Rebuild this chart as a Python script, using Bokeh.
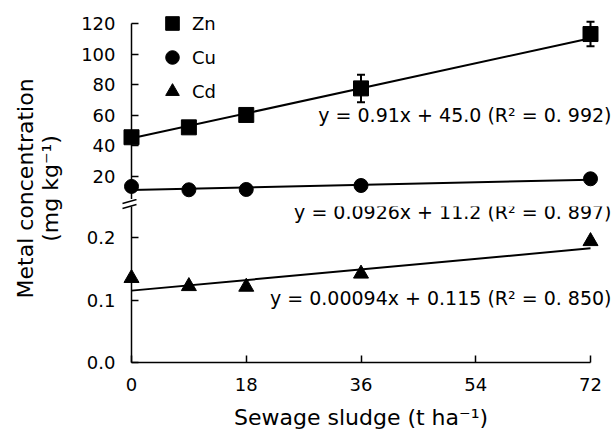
import math
from bokeh.plotting import figure
from bokeh.models import (Range1d, ColumnDataSource, Label, Legend, LegendItem,
                          Whisker, TeeHead, FixedTicker, PrintfTickFormatter)
from bokeh.core.properties import value
from bokeh.layouts import row, column
from bokeh.embed import file_html
from bokeh.resources import INLINE

# ---------------- data ----------------
sludge = [0, 9, 18, 36, 72]
zn = [45.7, 52.2, 60.3, 77.7, 113.3]
zn_err = [2.0, 2.0, 2.0, 9.0, 8.0]
cu = [13.5, 11.3, 11.5, 14.1, 18.5]
cd = [0.135, 0.122, 0.121, 0.142, 0.194]

fit_slope = {"Zn": 0.91, "Cu": 0.0926, "Cd": 0.00094}
fit_icpt = {"Zn": 45.0, "Cu": 11.2, "Cd": 0.115}
eq_text = {
    "Zn": "y = 0.91x + 45.0 (R\u00b2 = 0. 992)",
    "Cu": "y = 0.0926x + 11.2 (R\u00b2 = 0. 897)",
    "Cd": "y = 0.00094x + 0.115 (R\u00b2 = 0. 850)",
}
x_ticks = [0, 18, 36, 54, 72]
upper_ticks = [20, 40, 60, 80, 100, 120]
lower_ticks = [0.0, 0.1, 0.2]
x_title = "Sewage sludge (t ha\u207b\u00b9)"
y_title = ["Metal concentration", "(mg kg\u207b\u00b9)"]

FONT = "DejaVu Sans"
TICK_FS = "18px"
TITLE_FS = "22px"
EQ_FS = "19px"
INK = "black"

fit_x = [min(sludge), max(sludge)]

def fit_y(name):
    return [fit_slope[name] * x + fit_icpt[name] for x in fit_x]

X_END = 75.45
x_range = Range1d(0, X_END)

def style(p):
    p.grid.visible = False
    p.outline_line_color = None
    p.background_fill_color = "white"
    p.border_fill_color = "white"

def style_axis(ax, standoff):
    ax.axis_line_width = 1.5
    ax.axis_line_color = INK
    ax.major_tick_line_width = 1.5
    ax.major_tick_line_color = INK
    ax.major_tick_in = 7
    ax.major_tick_out = 0
    ax.minor_tick_line_color = None
    ax.major_label_standoff = standoff
    ax.major_label_text_font = FONT
    ax.major_label_text_font_size = TICK_FS
    ax.major_label_text_color = INK

# ---------------- upper panel (Zn, Cu) ----------------
TOP_LO = 4.94
top = figure(width=534, height=199, x_range=x_range, y_range=Range1d(TOP_LO, 135.26),
             output_backend="svg", toolbar_location=None,
             min_border_left=53, min_border_right=0, min_border_top=0, min_border_bottom=0)
style(top)
top.xaxis.visible = False
ya = top.yaxis[0]
ya.ticker = FixedTicker(ticks=upper_ticks)
ya.bounds = (TOP_LO, max(upper_ticks))
style_axis(ya, 16)

src_zn = ColumnDataSource(dict(x=sludge, y=zn,
                               lo=[v - e for v, e in zip(zn, zn_err)],
                               hi=[v + e for v, e in zip(zn, zn_err)]))
top.add_layout(Whisker(source=src_zn, base="x", upper="hi", lower="lo",
                       line_color=INK, line_width=2,
                       upper_head=TeeHead(size=8, line_width=2, line_color=INK),
                       lower_head=TeeHead(size=8, line_width=2, line_color=INK)))
top.line(fit_x, fit_y("Zn"), line_color=INK, line_width=2)
top.line(fit_x, fit_y("Cu"), line_color=INK, line_width=2)
r_zn = top.scatter("x", "y", source=src_zn, marker="square", size=15,
                   fill_color=INK, line_color=INK, level="overlay")
r_cu = top.scatter(sludge, cu, marker="circle", size=14,
                   fill_color=INK, line_color=INK, level="overlay")
# legend-only renderer for Cd (its points live in the lower panel)
r_cd_key = top.scatter(x=[float("nan")], y=[float("nan")], marker="triangle", size=15,
                       fill_color=INK, line_color=INK)

legend = Legend(items=[LegendItem(label="Zn", renderers=[r_zn]),
                       LegendItem(label="Cu", renderers=[r_cu]),
                       LegendItem(label="Cd", renderers=[r_cd_key])],
                location=(24, 91), glyph_width=34, glyph_height=34, spacing=0,
                padding=0, margin=0, label_standoff=3,
                label_text_font=FONT, label_text_font_size=TICK_FS,
                label_text_color=INK,
                border_line_color=None, background_fill_alpha=0)
top.add_layout(legend)

top.add_layout(Label(x=X_END, y=60.0, x_offset=-1, text=eq_text["Zn"], text_align="right",
                     text_baseline="middle", text_font=FONT, text_font_size=EQ_FS,
                     text_color=INK))

# ---------------- lower panel (Cd) ----------------
BOT_HI = 0.2496
PX_X = 6.375   # pixels per x unit
PX_Y = 625.0   # pixels per y unit (lower panel)
bot = figure(width=534, height=231, x_range=x_range, y_range=Range1d(0, BOT_HI),
             output_backend="svg", toolbar_location=None,
             min_border_left=53, min_border_right=0, min_border_top=7, min_border_bottom=68)
style(bot)
yb = bot.yaxis[0]
yb.ticker = FixedTicker(ticks=lower_ticks)
yb.formatter = PrintfTickFormatter(format="%.1f")
style_axis(yb, 16)

xb = bot.xaxis[0]
xb.ticker = FixedTicker(ticks=x_ticks)
xb.bounds = (min(x_ticks), max(x_ticks))
style_axis(xb, 15)

# x-axis title, drawn in the lower border below the tick labels
bot.text(x=[(min(x_ticks) + max(x_ticks)) / 2], y=[-55 / PX_Y], text=[x_title],
         text_align="center", text_baseline="middle",
         text_font=value(FONT), text_font_size=TITLE_FS, text_color=INK,
         level="overlay")

bot.line(fit_x, fit_y("Cd"), line_color=INK, line_width=2)
bot.scatter(sludge, cd, marker="triangle", size=15, fill_color=INK,
            line_color=INK, level="overlay")

bot.add_layout(Label(x=X_END, y=0.241, x_offset=-1, text=eq_text["Cu"], text_align="right",
                     text_baseline="middle", text_font=FONT, text_font_size=EQ_FS,
                     text_color=INK))
bot.add_layout(Label(x=X_END, y=0.1035, x_offset=-1, text=eq_text["Cd"], text_align="right",
                     text_baseline="middle", text_font=FONT, text_font_size=EQ_FS,
                     text_color=INK))

# axis-break mark: two short slanted strokes across the y axis, just above the lower panel
ax0 = min(x_ticks)
brk_x0 = [ax0 - 9 / PX_X, ax0 - 9 / PX_X]
brk_x1 = [ax0 + 5 / PX_X, ax0 + 5 / PX_X]
brk_y0 = [BOT_HI + 3 / PX_Y, BOT_HI - 2 / PX_Y]
brk_y1 = [BOT_HI + 7 / PX_Y, BOT_HI + 2 / PX_Y]
bot.segment(x0=brk_x0, y0=brk_y0, x1=brk_x1, y1=brk_y1, line_color=INK,
            line_width=1.5, level="overlay")

# ---------------- y-axis title panel ----------------
tp = figure(width=78, height=430, x_range=Range1d(0, 1), y_range=Range1d(0, 1),
            output_backend="svg", toolbar_location=None, min_border=0)
style(tp)
tp.axis.visible = False
tp.add_layout(Label(x=0.32, y=0.563, text=y_title[0], angle=math.pi / 2,
                    text_align="center", text_baseline="middle",
                    text_font=FONT, text_font_size=TITLE_FS, text_color=INK))
tp.add_layout(Label(x=0.64, y=0.563, text=y_title[1], angle=math.pi / 2,
                    text_align="center", text_baseline="middle",
                    text_font=FONT, text_font_size=TITLE_FS, text_color=INK))

layout = row(tp, column(top, bot))
open("out.html", "w").write(file_html(layout, INLINE))
